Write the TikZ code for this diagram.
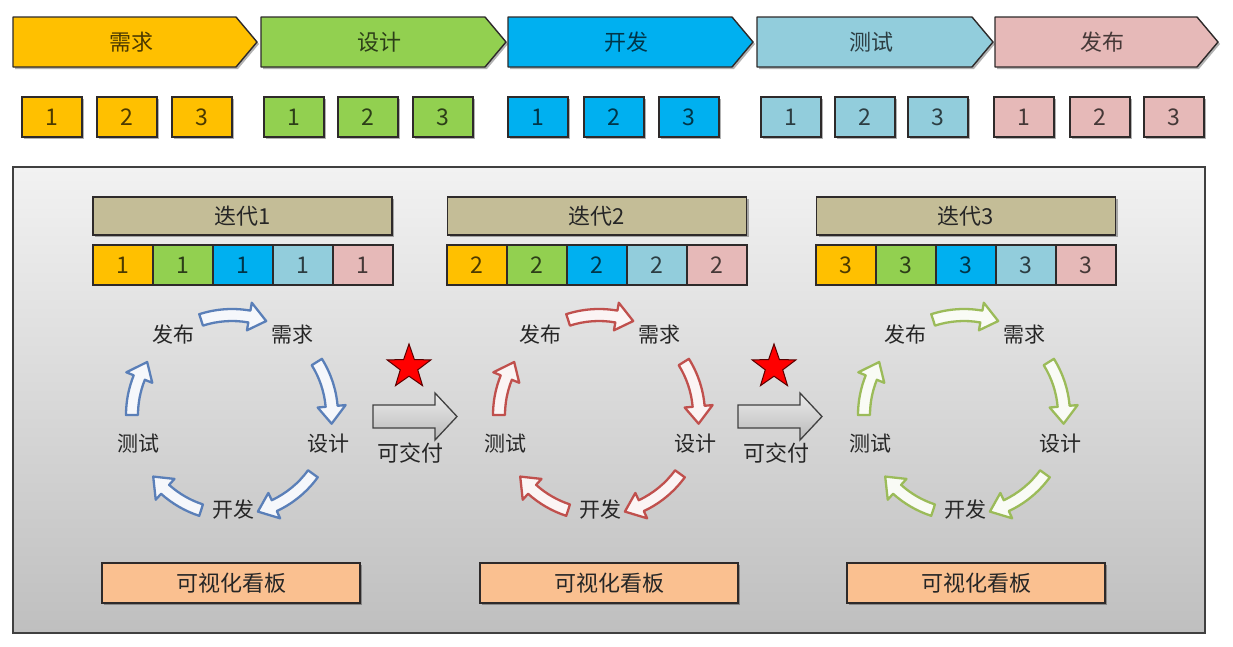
\documentclass[tikz,border=0pt]{standalone}
\usepackage{fontspec}
\setmainfont{Noto Sans CJK SC}
\usetikzlibrary{shapes.geometric,shadows,calc}
\definecolor{cY}{HTML}{FFC000}
\definecolor{cG}{HTML}{92D050}
\definecolor{cB}{HTML}{00B0F0}
\definecolor{cL}{HTML}{92CDDC}
\definecolor{cP}{HTML}{E6B9B8}
\definecolor{cTan}{HTML}{C4BD97}
\definecolor{cPeach}{HTML}{FAC090}
\definecolor{edgec}{HTML}{2E2A2A}
\definecolor{arB}{HTML}{5A7FB8}
\definecolor{arR}{HTML}{C0504D}
\definecolor{arG}{HTML}{9BBB59}
\definecolor{panTop}{HTML}{F2F2F2}
\definecolor{panBot}{HTML}{BFBFBF}
\definecolor{txt}{HTML}{262626}

\newcommand{\mychev}[5]{% name, x0, x1, colour, text
  \draw[chevb, fill=#4] (#2,17) -- ({#3-21},17) -- (#3,42) -- ({#3-21},67) -- (#2,67) -- cycle;
  \node[lab, text=#4!30!black] (#1) at ({(#2+#3)/2-4},42) {#5};}

\newcommand{\myarc}[3]{%
  \pgfmathsetmacro\myah{#2+10}%
  \draw[draw=#3, fill=#3!6, line width=2.3pt, line join=round]
    (#1:106) arc[start angle=#1, end angle=\myah, radius=106]
    -- (\myah:114) -- (#2:100) -- (\myah:86) -- (\myah:94)
    arc[start angle=\myah, end angle=#1, radius=94] -- cycle;}

\newcommand{\mycycle}[3]{% centre x, colour, prefix
  \begin{scope}[shift={(#1,415)}, yscale=-1]
    \myarc{108}{70}{#2}
    \myarc{32}{-5}{#2}
    \myarc{-36}{-75}{#2}
    \myarc{-108}{-142}{#2}
    \myarc{180}{148}{#2}
    \node[cyclab] (#3fb) at (-59,80) {发布};
    \node[cyclab] (#3xq) at (60,80) {需求};
    \node[cyclab] (#3sj) at (96,-29) {设计};
    \node[cyclab] (#3kf) at (1,-95) {开发};
    \node[cyclab] (#3cs) at (-94,-29) {测试};
  \end{scope}}

\begin{document}
\begin{tikzpicture}[x=1pt,y=-1pt,
  shad/.style={drop shadow={shadow xshift=2pt, shadow yshift=-2pt, opacity=0.3, fill=black}},
  chevb/.style={draw=edgec, line width=1.4pt, line join=round, shad},
  lab/.style={font=\fontsize{22}{26}\selectfont, inner sep=0pt},
  sbox/.style={draw=edgec, line width=1.4pt, minimum width=60, minimum height=40, inner sep=0pt,
     font=\fontsize{23}{26}\selectfont, shad},
  cell/.style={draw=edgec, line width=1.4pt, minimum width=60, minimum height=40, inner sep=0pt,
     font=\fontsize{23}{26}\selectfont},
  hdr/.style={draw=edgec, line width=1.4pt, fill=cTan, minimum width=299, minimum height=38, inner sep=0pt,
     font=\fontsize{22}{26}\selectfont, text=txt, shad},
  board/.style={draw=edgec, line width=1.4pt, fill=cPeach, minimum width=258, minimum height=40, inner sep=0pt,
     font=\fontsize{22}{26}\selectfont, text=txt, shad},
  cyclab/.style={font=\fontsize{21}{24}\selectfont, text=txt, inner sep=0pt},
  deliv/.style={draw=black!75, line width=1.3pt, top color=gray!15, bottom color=gray!55, line join=miter},
  redstar/.style={star, star points=5, star point ratio=2.5, fill=red, draw=red!35!black, line width=1pt,
     minimum size=46, inner sep=0pt}
  ]
\useasboundingbox (0,0) rectangle (1233,646);
\fill[white] (0,0) rectangle (1233,646);

% top chevrons
\mychev{chA}{13}{257}{cY}{需求}
\mychev{chB}{261}{506}{cG}{设计}
\mychev{chC}{508}{753}{cB}{开发}
\mychev{chD}{757}{993}{cL}{测试}
\mychev{chE}{995}{1218}{cP}{发布}

% small boxes
\node[sbox, fill=cY, text=cY!30!black] (y1) at (52,117) {1};
\node[sbox, fill=cY, text=cY!30!black] (y2) at (127,117) {2};
\node[sbox, fill=cY, text=cY!30!black] (y3) at (202,117) {3};
\node[sbox, fill=cG, text=cG!30!black] (g1) at (294,117) {1};
\node[sbox, fill=cG, text=cG!30!black] (g2) at (368,117) {2};
\node[sbox, fill=cG, text=cG!30!black] (g3) at (443,117) {3};
\node[sbox, fill=cB, text=cB!30!black] (b1) at (538,117) {1};
\node[sbox, fill=cB, text=cB!30!black] (b2) at (614,117) {2};
\node[sbox, fill=cB, text=cB!30!black] (b3) at (689,117) {3};
\node[sbox, fill=cL, text=cL!30!black] (l1) at (791,117) {1};
\node[sbox, fill=cL, text=cL!30!black] (l2) at (865,117) {2};
\node[sbox, fill=cL, text=cL!30!black] (l3) at (938,117) {3};
\node[sbox, fill=cP, text=cP!30!black] (p1) at (1024,117) {1};
\node[sbox, fill=cP, text=cP!30!black] (p2) at (1100,117) {2};
\node[sbox, fill=cP, text=cP!30!black] (p3) at (1174,117) {3};

% panel
\node[draw=black!75, line width=1.5pt, top color=panTop, bottom color=panBot,
      minimum width=1192, minimum height=466, inner sep=0pt] (panel) at (609,400) {};

% iteration headers
\foreach \n/\cx/\sx in {1/242.5/93, 2/597/447, 3/966/816}{
  \node[hdr] (it\n) at (\cx,216) {迭代\n};
  \foreach \k/\c in {0/cY,1/cG,2/cB,3/cL,4/cP}{
    \node[cell, fill=\c, text=\c!30!black] (it\n c\k) at ({\sx+30+60*\k},265) {\n};
  }
}

% cycles
\mycycle{232}{arB}{a}
\mycycle{599}{arR}{b}
\mycycle{964}{arG}{c}

% deliverable arrows and stars
\node[redstar] (st1) at (409,367) {};
\draw[deliv] (373,405) -- (435,405) -- (435,393) -- (457,416.5) -- (435,440) -- (435,428) -- (373,428) -- cycle;
\node[lab, text=txt] (dl1) at (410,453) {可交付};
\node[redstar] (st2) at (774,367) {};
\draw[deliv] (738,405) -- (800,405) -- (800,393) -- (822,416.5) -- (800,440) -- (800,428) -- (738,428) -- cycle;
\node[lab, text=txt] (dl2) at (776,453) {可交付};

% boards
\node[board] (kb1) at (231,583) {可视化看板};
\node[board] (kb2) at (609,583) {可视化看板};
\node[board] (kb3) at (976,583) {可视化看板};
\end{tikzpicture}
\end{document}
